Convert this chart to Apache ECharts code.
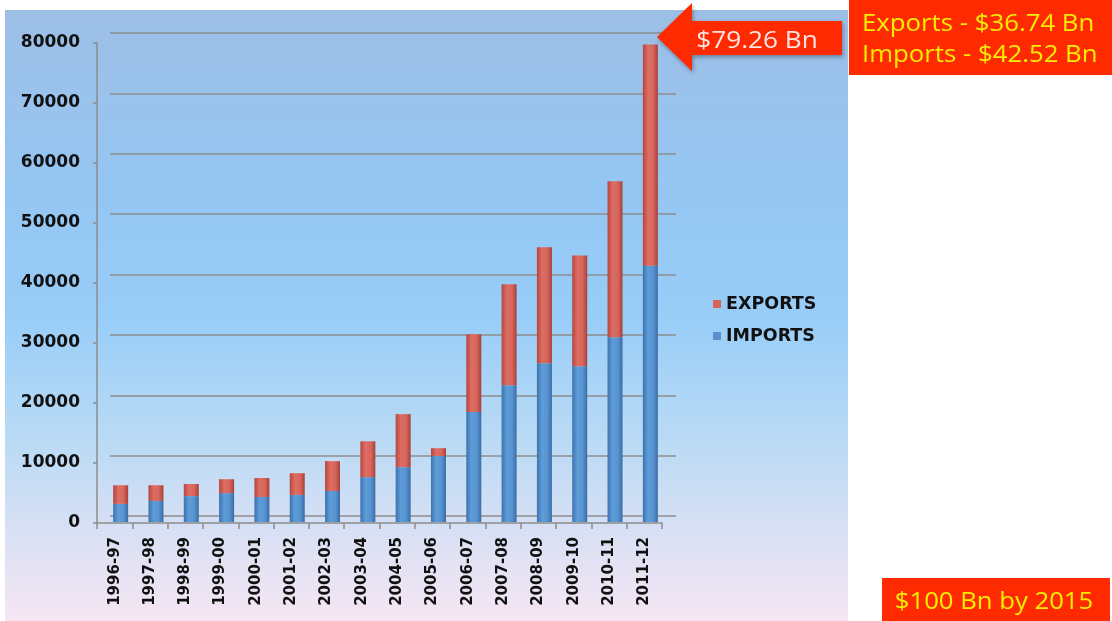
<!DOCTYPE html>
<html>
<head>
<meta charset="utf-8">
<script src="https://cdn.jsdelivr.net/npm/echarts@6/dist/echarts.min.js"></script>
<style>
html,body{margin:0;padding:0;background:#fff;}
#c{width:1112px;height:621px;}
</style>
</head>
<body>
<div id="c"></div>
<script>
const categories = ['1996-97','1997-98','1998-99','1999-00','2000-01','2001-02','2002-03','2003-04','2004-05','2005-06','2006-07','2007-08','2008-09','2009-10','2010-11','2011-12'];
const imports = [3000,3500,4300,4800,4150,4500,5150,7450,9100,10950,18250,22700,26350,25850,30650,42520];
const exportsData = [3100,2600,2000,2300,3150,3600,4950,5950,8800,1300,12900,16750,19250,18400,25900,36740];
const yTicks = [0,10000,20000,30000,40000,50000,60000,70000,80000];
const legendNames = ['EXPORTS','IMPORTS'];
const noteLines = ['Exports - $36.74 Bn','Imports - $42.52 Bn'];
const arrowText = '$79.26 Bn';
const targetText = '$100 Bn by 2015';

const chart = echarts.init(document.getElementById('c'), null, {renderer:'canvas'});

function cyl(edge, mid, mid2, edge2){
  return new echarts.graphic.LinearGradient(0,0,1,0,[
    {offset:0,color:edge},{offset:0.35,color:mid},{offset:0.7,color:mid2},{offset:1,color:edge2}]);
}
const red = cyl('#b5453e','#de6e63','#d6665c','#a63f39');
const blue = cyl('#3d72ad','#5e9dd9','#5693d0','#3a6ca5');

const option = {
  animation:false,
  backgroundColor:'#ffffff',
  graphic:[
    {type:'rect', z:-10, shape:{x:5,y:10,width:843,height:611},
     style:{fill:new echarts.graphic.LinearGradient(0,0,0,1,[
       {offset:0,color:'#9dbfe6'},{offset:0.3,color:'#95c6f3'},{offset:0.5,color:'#98cdf8'},
       {offset:0.7,color:'#b9daf5'},{offset:1,color:'#f6e6f3'}])}},
    // arrow
    {type:'polygon', z:50, shape:{points:[[657,37],[692,3],[692,21],[842,21],[842,55],[692,55],[692,71]]},
     style:{fill:'#ff2a00', shadowBlur:4, shadowColor:'rgba(0,0,0,0.35)', shadowOffsetX:1, shadowOffsetY:2}},
    {type:'text', z:51, x:757, y:41, scaleX:1.09, style:{text:arrowText, fill:'#fde4e4', font:'24px "Open Sans"', align:'center', verticalAlign:'middle'}},
    // note box
    {type:'rect', z:50, shape:{x:849,y:0,width:263,height:75}, style:{fill:'#ff2a00'}},
    {type:'text', z:51, x:862, y:24, scaleX:1.12, style:{text:noteLines[0], fill:'#f5ee00', font:'23px "Open Sans"', verticalAlign:'middle'}},
    {type:'text', z:51, x:862, y:55, scaleX:1.12, style:{text:noteLines[1], fill:'#f5ee00', font:'23px "Open Sans"', verticalAlign:'middle'}},
    // target box
    {type:'rect', z:50, shape:{x:882,y:578,width:228,height:43}, style:{fill:'#ff2a00'}},
    {type:'text', z:51, x:994, y:602, scaleX:1.07, style:{text:targetText, fill:'#f5ee00', font:'24px "Open Sans"', align:'center', verticalAlign:'middle'}}
  ],
  legend:{
    orient:'vertical', left:708, top:290, itemGap:14,
    icon:'rect', itemWidth:8, itemHeight:8,
    textStyle:{fontFamily:'DejaVu Sans', fontWeight:'bold', fontSize:17.5, color:'#111'},
    data:[{name:legendNames[0], itemStyle:{color:'#d6665c'}},{name:legendNames[1], itemStyle:{color:'#5a8fcb'}}]
  },
  grid:[
    {left:97, right:450, top:43, bottom:98},
    {left:103, right:444, top:40, bottom:99},
    {left:110, right:436, top:33, bottom:105}
  ],
  xAxis:[
    {type:'category', gridIndex:0, data:categories,
     axisLine:{lineStyle:{color:'#8c8c8c', width:1.5}},
     axisTick:{show:true, length:6, lineStyle:{color:'#8c8c8c', width:1.5}},
     axisLabel:{rotate:90, margin:14, fontFamily:'DejaVu Sans', fontWeight:'bold', fontSize:15, color:'#111', interval:0}},
    {type:'category', gridIndex:1, data:categories, show:false},
    {type:'category', gridIndex:2, data:categories, show:false}
  ],
  yAxis:[
    {type:'value', gridIndex:0, min:0, max:80000, interval:10000,
     axisLine:{show:true, lineStyle:{color:'#8c8c8c', width:1.5}},
     axisTick:{show:true, length:4, lineStyle:{color:'#8c8c8c', width:1.5}},
     splitLine:{show:false},
     axisLabel:{margin:17, fontFamily:'DejaVu Sans', fontWeight:'bold', fontSize:17, color:'#111',
       formatter:function(v){ return yTicks.indexOf(v) >= 0 ? String(v) : ''; }}},
    {type:'value', gridIndex:1, min:0, max:80000, interval:10000, show:false, splitLine:{show:false}},
    {type:'value', gridIndex:2, min:0, max:80000, interval:10000,
     axisLine:{show:false}, axisTick:{show:false}, axisLabel:{show:false},
     splitLine:{show:true, lineStyle:{color:'#8e8e8e', width:1.5}}}
  ],
  series:[
    {name:legendNames[1], type:'bar', stack:'t', xAxisIndex:1, yAxisIndex:1, barWidth:15,
     itemStyle:{color:blue}, data:imports},
    {name:legendNames[0], type:'bar', stack:'t', xAxisIndex:1, yAxisIndex:1, barWidth:15,
     itemStyle:{color:red}, data:exportsData}
  ]
};
chart.setOption(option);
</script>
</body>
</html>
